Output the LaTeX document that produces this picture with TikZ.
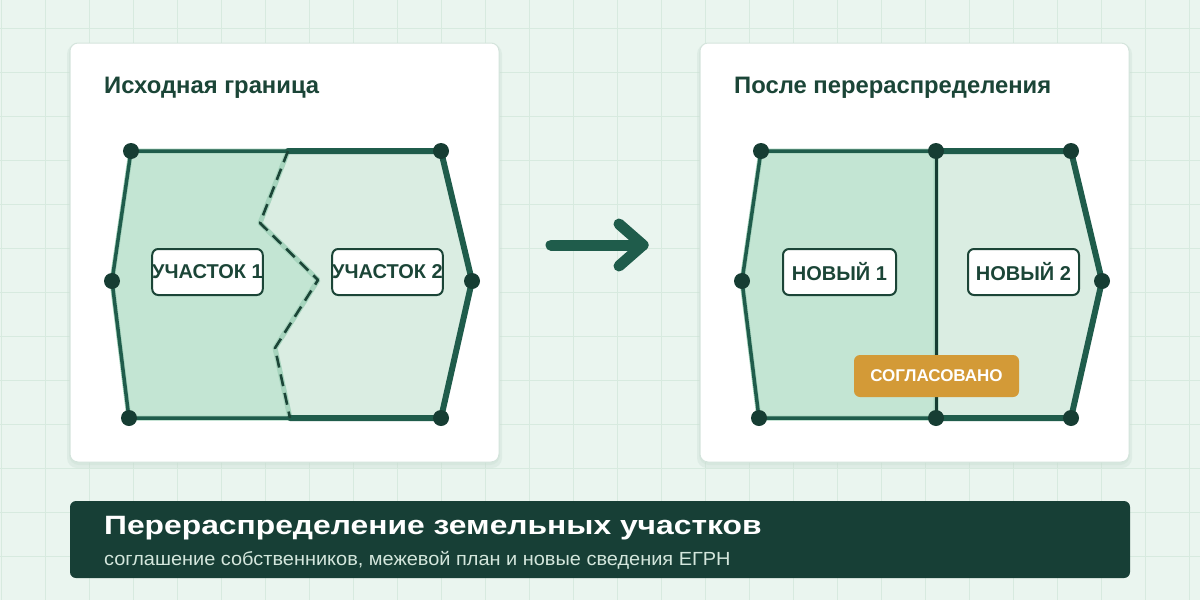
\documentclass[tikz,border=0pt]{standalone}
\usepackage{fontspec}
\setmainfont{Liberation Sans}
\newfontfamily\widebold[FakeStretch=1.2]{Liberation Sans Bold}
\newfontfamily\widereg[FakeStretch=1.05]{Liberation Sans}
\usetikzlibrary{calc}
\definecolor{bgc}{HTML}{EAF5EF}
\definecolor{gridc}{HTML}{D7EADF}
\definecolor{cardborder}{HTML}{D4E4DC}
\definecolor{shadowc}{HTML}{C9DED3}
\definecolor{titlec}{HTML}{1B4537}
\definecolor{outlinec}{HTML}{1F5C4B}
\definecolor{dotc}{HTML}{163D33}
\definecolor{parcelA}{HTML}{C3E5D3}
\definecolor{parcelB}{HTML}{DAEDE2}
\definecolor{lightline}{HTML}{A6D4BD}
\definecolor{badgec}{HTML}{D39A37}
\definecolor{bannerc}{HTML}{173F36}
\definecolor{subc}{HTML}{D3E6DC}
\tikzset{
  card/.style={fill=white, draw=cardborder, line width=1, rounded corners=8},
  cardshadow/.style={fill=shadowc, opacity=0.35, rounded corners=10},
  dot/.style={circle, fill=dotc, inner sep=0, minimum size=16},
  thinedge/.style={draw=outlinec, line width=3.5, line join=round, line cap=round},
  thickedge/.style={draw=outlinec, line width=6, line join=round, line cap=round},
  lbl/.style={draw=titlec, line width=2, fill=white, rounded corners=6, inner sep=0,
    minimum height=46, text=titlec, font=\bfseries\fontsize{20}{23}\selectfont},
  paneltitle/.style={anchor=base west, text=titlec, inner sep=0, font=\bfseries\fontsize{23.8}{28}\selectfont},
  badge/.style={fill=badgec, rounded corners=6, inner sep=0, minimum width=165, minimum height=42,
    text=white, font=\bfseries\fontsize{17}{20}\selectfont},
  dashline/.style={draw=titlec, line width=2.6, dash pattern=on 12 off 7, line join=round},
}
\begin{document}
\begin{tikzpicture}[x=1pt,y=-1pt]
\useasboundingbox (0,0) rectangle (1200,600);
\fill[bgc] (0,0) rectangle (1200,600);
% grid
\foreach \gx in {1,45,...,1200} \draw[gridc, line width=1] (\gx,0) -- (\gx,600);
\foreach \gy in {28,72,...,600} \draw[gridc, line width=1] (0,\gy) -- (1200,\gy);

% cards
\foreach \cx in {70,700} {
  \fill[cardshadow] (\cx-3,43+1) rectangle (\cx+432,462+6);
  \fill[cardshadow] (\cx-1,43+1) rectangle (\cx+430,462+3);
  \path[card] (\cx,43) rectangle (\cx+429,462);
}

% ---------- left panel ----------
\node[paneltitle] (t1) at (104,93) {Исходная граница};
\coordinate (A) at (131,151);
\coordinate (B) at (441,151);
\coordinate (C) at (472,281);
\coordinate (D) at (441,418);
\coordinate (E) at (129,418);
\coordinate (F) at (112,281);
\coordinate (P1) at (288,151);
\coordinate (P2) at (260,223);
\coordinate (P3) at (318,280);
\coordinate (P4) at (275,348);
\coordinate (P5) at (290,418);
\fill[parcelB] (P1) -- (B) -- (C) -- (D) -- (P5) -- (P4) -- (P3) -- (P2) -- cycle;
\path[fill=parcelA, draw=lightline, line width=5, line join=round] (A) -- (P1) -- (P2) -- (P3) -- (P4) -- (P5) -- (E) -- (F) -- cycle;
\draw[thinedge] (P1) -- (A) -- (F) -- (E) -- (P5);
\draw[thickedge] (P1) -- (B) -- (C) -- (D) -- (P5);
\draw[dashline] (P1) -- (P2) -- (P3) -- (P4) -- (P5);
\foreach \v in {A,B,C,D,E,F} \node[dot] (dot\v) at (\v) {};
\node[lbl, minimum width=109] (u1) at (207.5,272) {УЧАСТОК 1};
\node[lbl, minimum width=109] (u2) at (387.5,272) {УЧАСТОК 2};

% ---------- arrow ----------
\coordinate (ar1) at (551,245);
\coordinate (ar2) at (643,245);
\draw[outlinec, line width=11, line cap=round, line join=round] (ar1) -- (ar2);
\draw[outlinec, line width=11, line cap=round, line join=round] ($(ar2)+(-24,-21)$) -- (ar2) -- ($(ar2)+(-24,21)$);

% ---------- right panel ----------
\node[paneltitle] (t2) at (734,93) {После перераспределения};
\coordinate (RA) at (761,151);
\coordinate (RB) at (1071,151);
\coordinate (RC) at (1102,281);
\coordinate (RD) at (1071,418);
\coordinate (RE) at (759,418);
\coordinate (RF) at (742,281);
\coordinate (M1) at (936,151);
\coordinate (M2) at (936,418);
\fill[parcelB] (M1) -- (RB) -- (RC) -- (RD) -- (M2) -- cycle;
\path[fill=parcelA, draw=lightline, line width=5, line join=round] (RA) -- (M1) -- (M2) -- (RE) -- (RF) -- cycle;
\draw[thinedge] (M1) -- (RA) -- (RF) -- (RE) -- (M2);
\draw[thickedge] (M1) -- (RB) -- (RC) -- (RD) -- (M2);
\draw[draw=dotc, line width=3] (M1) -- (M2);
\node[badge] (ok) at (936.5,376) {СОГЛАСОВАНО};
\foreach \v in {RA,RB,RC,RD,RE,RF,M1,M2} \node[dot] (dot\v) at (\v) {};
\node[lbl, minimum width=113] (n1) at (839.5,272) {НОВЫЙ 1};
\node[lbl, minimum width=111] (n2) at (1023.5,272) {НОВЫЙ 2};

% ---------- banner ----------
\fill[bannerc, rounded corners=6] (70,501) rectangle (1130,578);
\node[anchor=base west, inner sep=0, text=white, font=\widebold\fontsize{26.5}{30}\selectfont] (bt) at (104,534) {Перераспределение земельных участков};
\node[anchor=base west, inner sep=0, text=subc, font=\widereg\fontsize{19}{22}\selectfont] (bs) at (104,565) {соглашение собственников, межевой план и новые сведения ЕГРН};
\end{tikzpicture}
\end{document}
